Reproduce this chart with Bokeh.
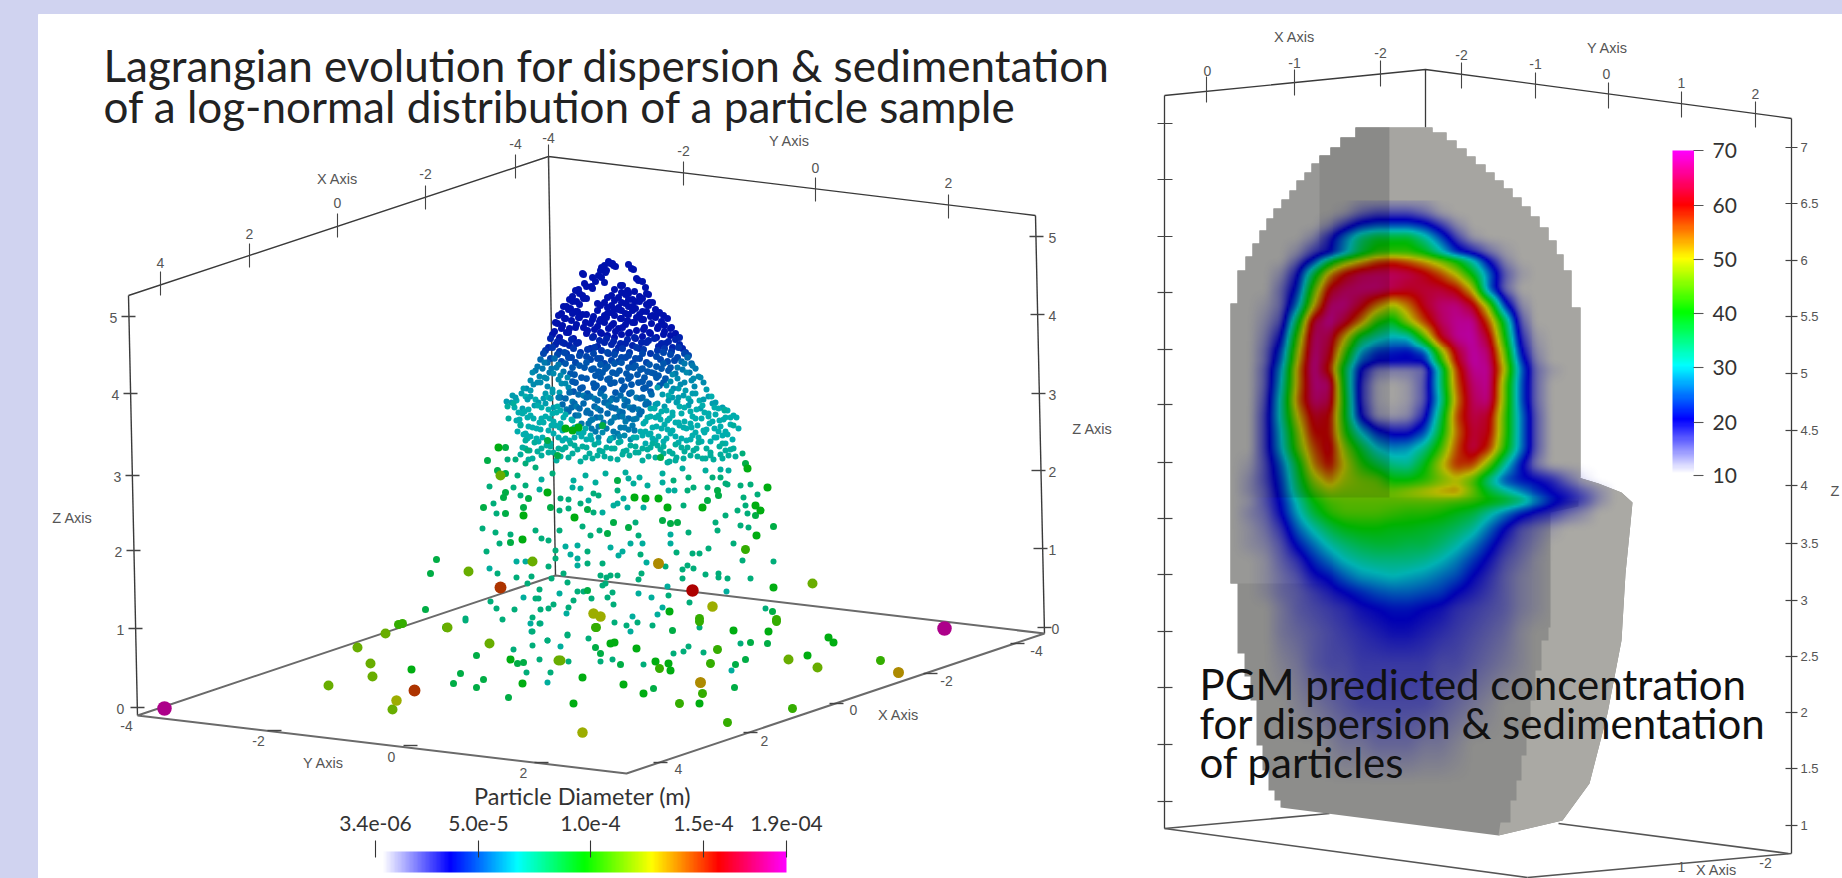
import numpy as np
from bokeh.plotting import figure
from bokeh.models import Range1d
from bokeh.core.properties import value
from bokeh.embed import file_html
from bokeh.resources import INLINE

W, H = 1842, 878
# every position below is read in reference pixels (y downwards)
def Y(a):
    return H - np.asarray(a, dtype=float)

LAVENDER = "#d0d3f0"

# ---------- colour scale shared by both panels
scale_values = [10, 20, 30, 40, 50, 60, 70]
scale_rgb = [(255,255,255),(0,0,255),(0,255,255),(0,255,0),(255,255,0),(255,0,0),(255,0,255)]
def cmap(v):
    c = np.array(scale_rgb, dtype=float)
    return np.stack([np.interp(v, scale_values, c[:, i]) for i in range(3)], axis=-1)

# ---------- LEFT PANEL: particles. Rows of the dense cloud: (y, value, x positions, each dot's y offset + 3)
cloud_rows = [
 (262,21,[608,612],"24"),(265,21,[604,610,615,628],"3142"),(268,21,[601,606,613,631],"2503"),(272,21,[582,600,605,633],"4130"),
 (276,21,[583,592,598,636],"1425"),(280,21,[595,601,638],"403"),(284,21,[584,591,604,622,642],"25140"),(288,21,[578,586,592,620,627,645],"413052"),
 (292,21,[575,582,614,621,628,634,648],"1603425"),(296,21,[572,579,586,611,618,625,632,639,646],"305241630"),
 (300,21,[569,576,583,597,607,614,621,628,635,642,649],"24160352415"),(304,21,[566,572,579,604,611,618,625,632,639,646,652],"50314625031"),
 (308,21,[563,570,577,600,607,614,621,628,635,642,648,655],"136024513604"),(312,21,[561,568,575,582,597,604,611,618,625,632,639,646,652,659],"40251630415263"),
 (316,21,[558,565,572,579,586,593,600,607,614,621,628,636,643,650,657,663],"2504136025146302"),
 (320,21,[557,564,571,578,585,592,599,606,613,620,627,634,641,655,661,667],"6130524061352041"),
 (325,21,[555,562,569,576,583,590,597,604,611,618,625,632,644,651,658,664,670],"03625140362051436"),
 (330,21,[554,561,568,575,587,594,601,608,615,622,629,636,643,650,657,664,671],"41503261405326140"),
 (335,21,[552,559,566,573,586,593,600,607,614,621,628,635,642,649,656,663,670,675],"250614035216405231"),
 (340,22,[550,557,564,571,578,592,599,606,613,620,627,634,641,648,654,661,668,675,679],"1462503146205316420"),
 (345,22,[548,555,562,569,576,590,597,604,611,618,625,632,639,646,658,665,672,679,682],"5203164025136041526"),
 (350,23,[545,552,559,566,573,580,587,594,601,608,615,622,629,636,643,650,657,664,671,678,685],"304615203641502631405"),
 (355,24,[543,550,557,564,571,579,586,593,600,607,614,621,628,635,642,656,663,670,677,684,688],"162053416025361402513"),
 (360,24,[561,568,575,590,597,604,611,618,625,632,639,646,660,667,674],"405216340615243"),
 (360,26,[540,547,554,681,687,691],"251406"),
 (365,25,[565,572,579,586,593,600,607,614,621,628,635,642,649,656,663,670],"1530624105362415"),
 (365,27,[537,544,551,558,677,684,692],"4062513"),
 (370,25,[570,584,591,598,605,612,619,626,633,640,647,654,661,668],"60241536024613"),
 (370,27,[535,542,549,556,563,675,682,689,695],"315046251"),
 (375,25,[574,581,595,602,609,616,630,637,644,651,658,665],"253061425036"),
 (375,28,[532,539,546,553,560,567,672,686,693,698],"0461352064"),
 (380,25,[572,586,593,600,607,614,621,628,642,649,656,663],"416025314605"),
 (380,28,[530,537,544,558,565,670,677,684,691,700],"3502641530"),
 (385,25,[575,582,596,603,610,624,631,638,645,659],"0536142053"),
 (385,28,[526,533,540,547,561,568,666,673,680,694,703],"62041536240"),
 (390,25,[573,580,587,594,601,615,622,629,643,650],"4160352614"),
 (390,29,[523,530,545,552,559,657,671,678,685,692,706],"13625041362"),
 (395,26,[560,569,578,590,600,612,620,631,642,651],"5024163052"),
 (395,29,[512,521,530,543,552,662,672,683,695,708],"3146025314"),
 (398,27,[558,572,583,594,604,610,624,636,646],"260315426"),
 (398,30,[516,525,535,548,668,677,688,699,711],"514206351"),
 (400,26,[565,574,586,597,606,616,627,640,648],"160352416"),
 (400,29,[506,515,527,538,550,657,668,678,690,703,715],"40251630425"),
 (405,26,[562,571,583,594,604,615,624,633,645],"251406352"),
 (405,29,[511,522,534,545,553,655,664,676,688,700,712,722],"063152403615"),
 (408,27,[566,576,587,597,608,619,629,638],"41530624"),
 (408,30,[514,524,537,548,557,654,666,679,690,702,714,724],"260413516024"),
 (410,26,[568,579,590,600,611,622,632,641],"41630524"),
 (410,30,[518,528,541,552,560,650,661,672,684,696,708,718,727],"5206314502613"),
 (415,26,[575,586,596,607,618,628,639],"3051462"),
 (415,30,[522,533,545,556,565,647,658,669,681,692,704,715,725,733],"16402536140253"),
 (418,27,[578,590,600,611,622,633],"052614"),
 (418,30,[519,530,541,553,563,572,650,660,672,684,695,708,719,730],"40362514063152"),
 (420,27,[581,592,603,614,625,636],"625041"),
 (420,30,[516,527,539,549,560,571,645,655,667,678,690,701,712,723,736],"305162403561420"),
 (425,27,[588,598,610,620,632],"14053"),
 (425,30,[520,532,543,555,566,577,643,652,664,675,686,697,709,720,730],"250364152063142"),
 (428,27,[591,602,613,624,634],"30625"),
 (428,30,[517,528,540,551,562,574,585,645,656,667,679,691,703,714,725],"614052361402536"),
 (430,27,[595,606,617,628],"4162"),
 (430,30,[525,536,548,559,571,583,640,650,661,672,683,695,706,718,738],"613025461305241"),
 (435,28,[602,613,624],"053"),
 (435,30,[523,530,542,553,565,578,590,636,648,658,670,681,692,704,716,727],"2451603524163052"),
 (438,28,[598,609,619,630],"2514"),
 (438,30,[526,536,547,558,569,581,591,642,652,663,675,686,698,710,722,732],"0362514036152604"),
 (440,30,[527,538,550,562,574,586,598,610,620,633,645,655,666,678,690,701,714,725],"146302514063152406"),
 (445,31,[522,534,546,558,570,582,594,606,618,630,642,652,663,675,687,698,722,733],"503614250361425016"),
 (448,31,[525,537,550,562,574,586,599,611,623,635,647,657,669,681,693,706,719,730],"361402536140625314"),
 (450,31,[529,541,553,565,577,589,602,614,626,638,650,660,672,684,696,710,725],"31502641350264153"),
 (455,31,[520,532,548,560,572,585,597,610,622,635,648,663,676,690,705,720,735],"26041536204153624"),
 (458,31,[528,541,556,568,580,592,604,617,629,642,655,669,683,697,713,728],"4052631405263140"),
]
# scattered particles, grouped by diameter class (colour value on the bar)
particles_v31 = [(508,418),(513,403),(507,406),(520,425),(525,440),(541,479),(539,489),(572,487),(573,480),(580,488),(585,475),(595,482),(605,473),(623,498),(633,483),(639,477),(628,478),(625,472),(647,485),(662,473),(662,482),(675,460),(667,462),(668,490),(674,490),(705,470),(720,469),(728,470),(722,458),(702,458),(710,455),(682,468),(731,670),(547,682),(531,631),(530,623),(540,623),(547,640),(560,646),(630,631),(516,561),(525,561),(489,568),(565,546),(570,554),(577,545),(577,558),(577,565),(610,547),(622,551),(618,555),(630,543),(642,543),(646,562),(638,593),(651,597),(667,586),(662,607),(657,614),(632,616),(566,613),(559,593),(523,597),(670,543),(670,534),(617,503),(627,507),(643,507),(588,500),(602,512),(613,505),(724,410),(733,425),(726,591)]
particles_v33 = [(513,649),(532,645),(547,640),(539,659),(526,672),(550,672),(568,661),(567,634),(588,638),(600,661),(612,659),(643,664),(673,653),(683,651),(688,646),(703,652),(740,643),(699,627),(652,625),(637,622),(626,625),(614,622),(465,620),(465,618),(486,551),(497,573),(490,601),(496,608),(502,619),(514,609),(516,577),(531,576),(527,583),(499,543),(541,538),(548,540),(555,550),(555,558),(548,566),(563,573),(551,578),(567,582),(539,589),(535,598),(538,598),(540,609),(548,608),(553,604),(532,617),(539,623),(532,631),(568,607),(573,600),(577,591),(583,591),(591,598),(567,635),(587,551),(587,563),(602,563),(600,575),(606,577),(610,575),(617,575),(605,583),(612,592),(602,585),(607,597),(613,604),(640,554),(638,579),(641,573),(668,595),(665,566),(689,602),(676,552),(687,565),(682,569),(682,578),(693,568),(692,553),(699,553),(708,548),(705,574),(718,573),(718,577),(727,578),(733,543),(742,560),(750,578),(773,561),(765,608),(515,459),(507,459),(517,475),(489,486),(513,487),(493,503),(496,513),(520,495),(525,485),(482,528),(495,532),(510,534),(535,530),(552,473),(559,510),(559,530),(568,508),(560,498),(568,499),(580,503),(593,512),(582,526),(590,535),(599,530),(635,522),(638,535),(593,493),(598,495),(617,490),(673,480),(688,477),(687,490),(693,487),(712,477),(720,477),(725,483),(707,487),(683,505),(688,532),(715,522),(725,515),(717,530),(740,525),(748,527),(737,510),(745,505),(747,513),(743,497),(757,494),(750,484),(740,485),(727,484),(742,453),(535,467),(527,450),(525,463)]
particles_v36 = [(476,655),(460,673),(453,683),(476,687),(483,679),(508,697),(517,663),(523,662),(620,664),(653,688),(734,687),(735,664),(750,642),(767,643),(672,630),(745,659),(430,573),(436,559),(425,609),(510,542),(587,590),(772,611),(505,492),(503,497),(505,473),(497,470),(505,447),(487,460),(505,513),(523,507),(528,498),(550,507),(587,509),(607,533),(628,527),(613,522),(660,457),(617,480),(662,520),(670,523),(677,522),(707,500),(717,490),(718,495),(755,515),(745,463),(773,526),(602,425),(547,440),(557,455),(600,653),(595,647),(483,507)]
particles_v39 = [(411,669),(522,683),(510,659),(610,643),(614,642),(636,648),(655,661),(668,663),(670,670),(643,693),(623,684),(582,677),(573,703),(699,703),(828,637),(833,642),(768,631),(733,630),(807,655),(669,611),(773,587),(756,535),(523,515),(634,497),(658,498),(645,498),(667,507),(702,507),(755,505),(760,510),(767,487),(747,468),(574,517),(547,492),(498,447),(565,428),(572,430),(578,427),(522,539)]
particles_v43 = [(398,624),(402,623),(446,627),(710,663),(702,693),(679,703),(717,649),(727,722),(792,708),(880,660),(699,618),(776,619),(745,549),(595,627),(596,627),(699,621),(776,621),(659,668)]
particles_v46 = [(328,685),(357,647),(370,663),(372,676),(385,633),(392,709),(489,643),(558,660),(560,660),(788,659),(817,667),(468,571),(447,627),(532,561),(812,583),(500,475)]
particles_v49 = [(396,700),(593,613),(600,616),(712,606),(582,732)]
particles_v52 = [(700,682),(898,672),(658,563)]
particles_v57 = [(500,587),(414,690)]
particles_v60 = [(692,590)]
particles_v68 = [(164,708),(944,628)]
sparse_groups = [(31,particles_v31),(33,particles_v33),(36,particles_v36),(39,particles_v39),(43,particles_v43),
                 (46,particles_v46),(49,particles_v49),(52,particles_v52),(57,particles_v57),(60,particles_v60),(68,particles_v68)]
size_values = [21, 24, 28, 33, 36, 39, 43, 46, 52, 60, 68]
size_pixels = [7, 7, 6, 6, 7, 8, 9, 10, 11, 12.5, 14.5]

# left 3D box
left_box_lines = [
 [(128,295),(548,156),(1035,215)], [(548,156),(555,575)], [(128,295),(137,715)], [(1035,215),(1044,633)],
]
left_floor_lines = [[(137,715),(555,575),(1044,633),(626,773),(137,715)]]
left_tick_v = [(515,166),(425,197),(337,225),(249,255),(160,283),(548,156),(683,173),(815,189),(948,206)]
left_tick_h = [(1036,236),(1037,314),(1038,393),(1038,470),(1040,548),(1044,627),
               (128,316),(130,393),(132,475),(133,550),(135,628),(137,707),
               (274,730),(410,745),(541,762),(660,762),(750,732),(836,703),(930,673),(1017,643)]
left_labels = [("-4",515,143),("-2",425,173),("0",337,202),("2",249,233),("4",160,262),
 ("-4",548,137),("-2",683,150),("0",815,167),("2",948,182),
 ("5",1052,237),("4",1052,315),("3",1052,394),("2",1052,471),("1",1052,549),("0",1055,628),
 ("5",113,317),("4",115,394),("3",117,476),("2",118,551),("1",120,629),("0",120,708),
 ("-4",126,725),("-2",258,740),("0",391,756),("2",523,772),
 ("4",678,768),("2",764,740),("0",853,709),("-2",946,680),("-4",1036,650)]
left_axis_titles = [("X Axis",337,178),("Y Axis",789,140),("Z Axis",1092,428),("Z Axis",72,517),("Y Axis",323,762),("X Axis",898,714)]

# left colour bar
left_bar_values = ["3.4e-06","5.0e-5","1.0e-4","1.5e-4","1.9e-04"]
left_bar_x = [375,478,590,703,786]

field_rows = [
 (200,1360,[11,11,11,11,11]),
 (212,1344,[11,14,16,16,16,14,11]),
 (224,1328,[12,17,22,24,24,24,22,17,12]),
 (236,1312,[12,18,26,34,38,38,38,32,24,16,11]),
 (252,1296,[12,17,20,28,37,42,43,43,40,32,23,19,14,11]),
 (258,1296,[14,21,34,43,49,55,57,54,50,45,39,30,19,12]),
 (272,1280,[12,19,36,52,60,64,65,65,64,61,56,49,39,26,15,11]),
 (288,1280,[14,22,44,61,65,66,66,64,62,63,63,60,50,26,14]),
 (304,1264,[11,14,27,50,66,67,62,54,48,54,62,66,67,62,47,23,12]),
 (320,1264,[12,16,37,63,68,63,54,42,38,48,57,65,68,68,56,37,15]),
 (336,1264,[13,20,44,66,64,51,37,32,29,30,44,61,68,69,62,41,18,11]),
 (352,1264,[14,24,48,67,62,44,28,22,21,20,24,45,62,69,66,46,21,12]),
 (362,1264,[14,26,50,68,60,40,24,20,20,20,20,40,60,69,67,48,24,13]),
 (368,1264,[15,28,52,68,58,37,20,14,13,13,14,33,57,68,68,50,26,14,11]),
 (384,1264,[15,30,52,67,66,38,18,11,10,11,15,33,55,66,68,46,25,14]),
 (400,1264,[16,32,54,66,64,40,18,11,10,11,15,31,53,65,67,46,25,14]),
 (416,1264,[17,32,50,62,60,40,20,12,11,12,18,35,56,64,62,44,27,15]),
 (432,1264,[17,30,46,60,60,42,30,22,19,19,24,38,54,63,61,44,27,15]),
 (448,1264,[17,29,44,56,62,47,38,30,27,28,33,43,56,64,58,42,27,15]),
 (464,1248,[11,16,25,38,53,60,50,42,37,33,32,39,49,58,57,46,32,21,13]),
 (480,1248,[12,16,23,36,47,53,48,46,45,40,40,42,46,49,44,33,24,21,20,18,14,11]),
 (492,1248,[12,15,22,34,43,47,46,46,46,46,48,50,52,53,46,38,33,28,23,20,18,15,12]),
 (500,1248,[11,15,21,31,40,44,45,45,45,45,45,45,45,44,43,41,39,35,28,22,19,16,12]),
 (512,1248,[12,14,20,29,37,42,44,44,44,43,42,42,41,39,37,32,27,22,19,17,14,12]),
 (528,1248,[11,13,17,25,31,36,39,40,40,39,39,38,37,35,32,26,20,15,13,11]),
 (544,1248,[11,12,15,21,26,31,34,36,37,37,36,36,34,31,27,22,17,14,12]),
 (560,1264,[11,14,17,22,26,30,32,33,33,33,32,30,27,23,19,15,13,11]),
 (576,1264,[11,13,15,19,21,25,28,29,30,29,28,26,24,20,17,14,12,11]),
 (592,1264,[11,13,14,16,18,20,22,24,25,25,24,23,20,18,16,14,12,11]),
 (608,1280,[12,14,15,16,17,19,20,21,21,20,19,17,16,15,14,12,11]),
 (632,1280,[12,13,14,15,16,17,18,19,19,18,17,16,15,14,13,11]),
 (664,1280,[11,12,14,15,15,16,16,16,16,16,15,15,14,13,12,11]),
 (704,1296,[11,12,13,14,15,15,15,15,15,14,13,12,11]),
 (744,1328,[11,12,12,13,13,13,12,12,11]),
 (784,1328,[10,10]),
]
# solid outline of the section, as stairs (x, y at which that x ends)
stairs_left_top = [(1355,137),(1340,147),(1330,155),(1319,163),(1311,172),(1304,180),(1296,190),(1289,199),(1281,208),(1273,218),(1266,230),(1259,243),(1252,256),(1245,270),(1237,303),(1230,583),(1237,653),(1244,676),(1250,700),(1256,745),(1262,770),(1268,790),(1274,800),(1280,807)]
stairs_right_top = [(1432,132),(1446,140),(1456,148),(1466,156),(1475,164),(1485,172),(1494,180),(1503,188),(1512,197),(1521,206),(1530,216),(1539,227),(1548,240),(1556,254),(1563,270),(1571,307),(1580,477)]
right_block_edge = [(1578,477),(1598,483),(1621,492),(1632,502),(1630,523),(1625,573),(1621,640),(1607,713),(1589,783),(1562,820),(1498,835)]
right_block_inner = [(1500,822),(1510,822),(1510,800),(1516,800),(1516,780),(1521,780),(1521,755),(1526,755),(1526,730),(1530,730),(1530,700),(1535,700),(1535,670),(1541,670),(1541,640),(1548,640),(1548,627),(1550,627),(1550,512),(1578,506)]

# right 3D box
right_box_lines = [[(1164,95),(1425,69),(1791,118)], [(1425,69),(1425,127)], [(1164,95),(1164,828)], [(1791,118),(1791,853)]]
right_floor_lines = [[(1164,828),(1329,813)], [(1558,823),(1788,853)], [(1164,828),(1527,877)], [(1527,877),(1791,853)]]
right_tick_v = [(1206,89),(1294,82),(1380,73),(1461,75),(1535,85),(1608,95),(1681,104),(1755,114)]
right_z_values = ["7","6.5","6","5.5","5","4.5","4","3.5","3","2.5","2","1.5","1"]
right_z_pos = [147,203,260,316,373,430,485,543,600,656,712,768,825]
right_left_ticks = [123,179,236,292,349,404,462,518,574,631,687,744,801]
right_labels = [("0",1207,70),("-1",1294,62),("-2",1380,52),("-2",1461,54),("-1",1535,63),("0",1606,73),("1",1681,82),("2",1755,93),("-2",1765,862),("1",1681,866)]
right_axis_titles = [("X Axis",1716,869),("X Axis",1294,36),("Y Axis",1607,47)]
right_bar_values = [70,60,50,40,30,20,10]
right_bar_y = [150,205,259,313,367,422,475]

# ---------- figure
p = figure(width=W, height=H, x_range=Range1d(0, W), y_range=Range1d(0, H),
           output_backend="svg", toolbar_location=None, min_border=0,
           x_axis_type=None, y_axis_type=None)
p.grid.visible = False
p.outline_line_color = None
p.background_fill_color = LAVENDER
p.border_fill_color = LAVENDER
p.quad(left=[38], right=[W], bottom=[0], top=[Y(14)], color="white")

def poly(pts, color):
    p.patch([a for a, b in pts], Y([b for a, b in pts]), fill_color=color, line_color=None)

def lines(groups, color, width):
    p.multi_line([[a for a, b in g] for g in groups], [list(Y([b for a, b in g])) for g in groups],
                 line_color=color, line_width=width)

def labels(items, size, color="#555555", align="center"):
    p.text([i[1] for i in items], Y([i[2] for i in items]), text=[i[0] for i in items],
           text_font=value("Liberation Sans"), text_font_size=size, text_color=color,
           text_align=align, text_baseline="middle")

# left box
lines(left_box_lines, "#3a3a3a", 1.4)
lines(left_floor_lines, "#6a6a6a", 2.0)
lines([[(x, y-12), (x, y+12)] for x, y in left_tick_v], "#444444", 1.1)
lines([[(x-7, y), (x+7, y)] for x, y in left_tick_h], "#444444", 1.4)
labels(left_labels, "14px")
labels(left_axis_titles, "14.5px")

# particles
px, py, pv = [], [], []
for y0, v, xs, off in cloud_rows:
    px += xs; py += [y0 + int(d) - 3 for d in off]; pv += [v]*len(xs)
for v, pts in sparse_groups:
    px += [a for a, b in pts]; py += [b for a, b in pts]; pv += [v]*len(pts)
pv = np.array(pv, dtype=float)
rgb = (cmap(pv)*0.68).astype(int)
cols = ["#%02x%02x%02x" % tuple(c) for c in rgb]
p.scatter(px, Y(py), size=np.interp(pv, size_values, size_pixels), color=cols, line_color=None)

# left bar
grad = np.linspace(10, 70, 300)
def bar_rgba(vals, horizontal=True):
    c = cmap(vals).astype(np.uint8)
    a = np.full(len(vals), 255, dtype=np.uint8)
    d = np.dstack([c[None, :, 0], c[None, :, 1], c[None, :, 2], a[None, :]])
    if not horizontal:
        d = d.transpose(1, 0, 2)
    return d.view(dtype=np.uint32).reshape(d.shape[:2])
p.image_rgba(image=[bar_rgba(grad)], x=382, y=Y(872), dw=404, dh=21)
lines([[(x, 840), (x, 857)] for x in left_bar_x], "#333333", 1.1)
p.text(left_bar_x, Y([823]*5), text=left_bar_values, text_font=value("Lato"), text_font_size="21px",
       text_color="#333333", text_align="center", text_baseline="middle")
p.text([582], Y([795]), text=["Particle Diameter (m)"], text_font=value("Lato"), text_font_size="23.5px",
       text_color="#333333", text_align="center", text_baseline="middle")

# right box
lines(right_box_lines, "#3a3a3a", 1.3)
lines(right_floor_lines, "#555555", 1.6)
lines([[(x, y-13), (x, y+13)] for x, y in right_tick_v], "#444444", 1.1)
lines([[(1785, y), (1797, y)] for y in right_z_pos], "#444444", 1.2)
lines([[(1157, y), (1172, y)] for y in right_left_ticks], "#444444", 1.2)
labels(right_labels, "14px")
labels(right_axis_titles, "14.5px")
labels([(t, 1800, y) for t, y in zip(right_z_values, right_z_pos)], "13px", align="left")
labels([("Z Axis", 1830, 490)], "14.5px", align="left")

# solid
def stairs(start, seq):
    out = [start]
    for x, yb in seq:
        out.append((x, out[-1][1]))
        out.append((x, yb))
    return out
left_edge = stairs((1355, 127), stairs_left_top)
right_edge = stairs((1432, 127), stairs_right_top)
outline = left_edge + [(1498, 835)] + right_block_edge[::-1] + right_edge[::-1]
poly(outline, "#8d8d8b")
poly([(x, y) for x, y in left_edge if y <= 583] + [(1389, 583), (1389, 127)], "#989896")
poly([(1389, 127), (1355, 127)] + [(x, y) for x, y in left_edge if y <= 160 and x >= 1319] + [(1319, 255), (1389, 255)], "#8a8a88")
poly([(1389, 127)] + right_edge + [(1578, 500), (1389, 500)], "#a6a5a1")
poly(right_block_edge + right_block_inner, "#aaa9a4")

# concentration field
fx = np.arange(1232, 1633, 2.0)
fy = np.arange(200, 785, 2.0)
row_y = [r[0] for r in field_rows]
row_x = np.arange(1232, 1633, 16.0)
grid = np.full((len(field_rows), len(row_x)), 10.0)
for i, (yy, x0, vals) in enumerate(field_rows):
    j = int((x0 - 1232)/16)
    grid[i, j:j+len(vals)] = vals
by_x = np.array([np.interp(fx, row_x, g) for g in grid])
field = np.array([np.interp(fy, row_y, by_x[:, k]) for k in range(len(fx))]).T
# the picture is a soft render: take the corners off the coarse reading
kernel = np.ones(5)/5
def soften(a, axis):
    return np.apply_along_axis(lambda m: np.convolve(np.pad(m, 2, mode="edge"), kernel, mode="valid"), axis, a)
field = soften(soften(field, 1), 0)
XX, YY = np.meshgrid(fx, fy)
shade = np.where(YY > 497, 0.70, np.where(XX < 1389, 0.62, 0.72))
col = cmap(np.maximum(field, 20.0))*shade[..., None]
alpha = np.clip((field-10)/10, 0, 1)*255
rgba = np.dstack([col, alpha]).astype(np.uint8)[::-1]   # row 0 of an image is its bottom row
p.image_rgba(image=[rgba.view(dtype=np.uint32).reshape(rgba.shape[:2])],
             x=1232, y=Y(784), dw=400, dh=584)

# right bar
p.image_rgba(image=[bar_rgba(grad, horizontal=False)], x=1672, y=Y(473), dw=21.5, dh=323)
lines([[(1693, y), (1703, y)] for y in right_bar_y], "#555555", 1.1)
p.text([1712]*7, Y(right_bar_y), text=[str(v) for v in right_bar_values], text_font=value("Lato"),
       text_font_size="21px", text_color="#333333", text_align="left", text_baseline="middle")

# titles
title_left = ["Lagrangian evolution for dispersion & sedimentation", "of a log-normal distribution of a particle sample"]
title_right = ["PGM predicted concentration", "for dispersion & sedimentation", "of particles"]
p.text([103, 103], Y([64, 105]), text=title_left, text_font=value("Lato"), text_font_size="44px",
       text_color="#222222", text_align="left", text_baseline="middle")
p.text([1199]*3, Y([683, 722, 761]), text=title_right, text_font=value("Lato"), text_font_size="42px",
       text_color="#111111", text_align="left", text_baseline="middle")

html = file_html(p, INLINE)
html = html.replace("<head>", "<head><style>html,body{margin:0;padding:0;overflow:hidden;background:%s} body>div{filter:blur(0.7px)}</style>" % LAVENDER, 1)
open("out.html", "w").write(html)
